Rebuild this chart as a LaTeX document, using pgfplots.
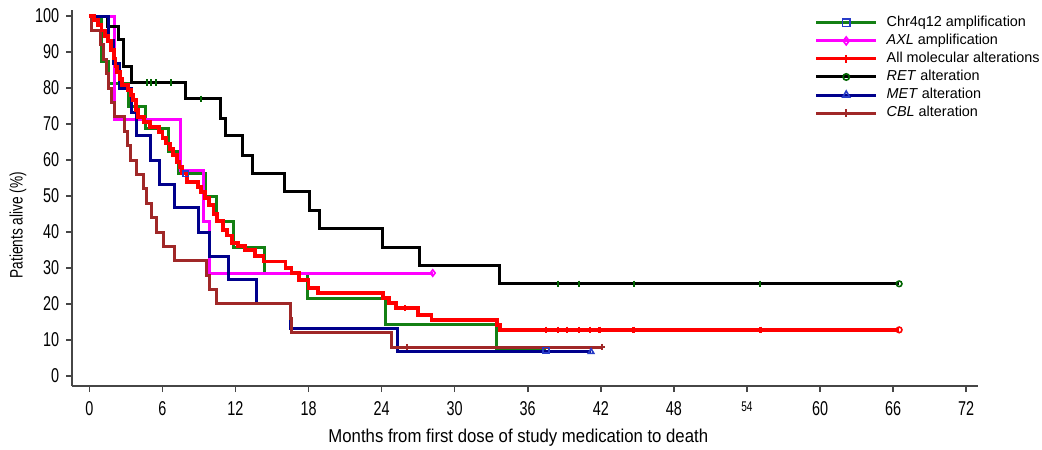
\documentclass[border=0pt]{standalone}
\usepackage{fontspec}
\setmainfont{Liberation Sans}
\newfontfamily\ticknarrow[FakeStretch=0.72]{Liberation Sans}
\newfontfamily\xlabnarrow[FakeStretch=0.9]{Liberation Sans}
\newfontfamily\ylabnarrow[FakeStretch=0.76]{Liberation Sans}
\usepackage{pgfplots}
\pgfplotsset{compat=1.18}
\definecolor{kmgreen}{RGB}{20,128,20}
\definecolor{kmdkgreen}{RGB}{0,100,0}
\definecolor{kmmag}{RGB}{255,0,255}
\definecolor{kmred}{RGB}{255,0,0}
\definecolor{kmnavy}{RGB}{0,0,140}
\definecolor{kmbrown}{RGB}{160,40,40}
\definecolor{kmblue}{RGB}{40,60,200}
\definecolor{axgray}{RGB}{70,70,70}

\pgfplotstableread{
t s
0 100
1.0 87.5
1.55 81.25
3.2 75
4.6 68.75
6.5 62.5
7.3 56.25
9.5 50
10.45 42.86
11.8 35.71
14.4 28.57
17.9 21.43
24.3 14.29
33.4 7.14
37.5 7.14
}\chrtab

\pgfplotstableread{
t s
0 100
2.1 71.4
7.45 57.1
9.36 42.9
9.9 28.6
28.2 28.6
}\axltab

\pgfplotstableread{
t s
0 100
0.4 99
0.7 97.5
1.0 96
1.3 94.5
1.55 93
1.8 90.5
2.0 88.2
2.15 86
2.3 84.5
2.5 82.5
2.65 80.8
3.2 79.4
3.4 78
3.6 76.7
3.8 74
4.0 72
4.5 70.5
5.0 69.2
5.7 67.8
6.0 66.2
6.3 64.6
6.6 63
6.9 61.4
7.2 59.5
7.4 58
7.6 56.3
8.0 54
8.9 52.6
9.2 51.2
9.5 49.5
9.8 47.5
10.2 45
10.5 43
11.0 40.5
11.3 39
11.7 37
12.2 36
12.8 35
13.6 33.3
14.3 31.8
16.1 30
16.6 28.6
17.2 26.7
18.0 24.5
18.8 23
24.1 21.6
24.6 20.2
25.2 18.8
27.0 17
28.1 15.6
33.5 14.2
33.7 12.8
66.5 12.8
}\alltab

\pgfplotstableread{
t s
0 100
1.5 97
2.4 93.5
2.8 86
3.5 81.5
7.9 77
10.8 71.6
11.2 66.7
12.6 61.4
13.4 56.3
16.0 51.2
18.1 45.9
18.9 41.0
24.1 35.8
27.1 30.7
33.7 25.6
66.5 25.6
}\rettab

\pgfplotstableread{
t s
0 100
1.6 93.3
2.0 86.7
2.5 80
3.5 73.3
3.9 66.7
5.0 60
5.8 53.3
7.0 46.7
8.95 40
9.9 33.3
11.4 26.7
13.7 20
16.5 13.3
25.3 6.7
41.2 6.7
}\mettab

\pgfplotstableread{
t s
0 100
0.2 96
0.9 92
1.15 88
1.4 84
1.6 80
1.8 76
2.1 72
2.9 68
3.1 64
3.35 60
3.9 56
4.45 52
4.7 48
5.1 44
5.5 40
6.1 36
7.0 32
9.6 28
9.9 24
10.45 20
16.5 16
16.6 12
24.8 8
42.1 8
}\cbltab

\begin{document}
\begin{tikzpicture}
\useasboundingbox (-36.15pt,-31.5pt) rectangle (484.85pt,193pt);
\begin{axis}[
  at={(0pt,0pt)}, anchor=south west,
  scale only axis, width=453pt, height=188pt,
  xmin=-1.4, xmax=73, ymin=-2.8, ymax=101.7,
  axis x line*=bottom, axis y line*=left,
  axis line style={draw=axgray, line width=0.9pt, -},
  tick style={draw=axgray, line width=0.8pt},
  tick align=outside, major tick length=3pt,
  xtick={0,6,...,72}, ytick={0,10,...,100},
  xticklabels={0,6,12,18,24,30,36,42,48,{\raisebox{2pt}{\fontsize{7}{7}\selectfont 54}},60,66,72},
  /pgf/number format/assume math mode=true,
  xticklabel style={font=\ticknarrow\fontsize{10}{11}\selectfont, yshift=-1.2pt},
  yticklabel style={font=\ticknarrow\fontsize{10}{11}\selectfont},
  xlabel={Months from first dose of study medication to death},
  xlabel style={font=\xlabnarrow\fontsize{9.3}{11}\selectfont, at={(axis description cs:0.5,0)}, anchor=center, yshift=-26pt, xshift=-3.5pt},
  ylabel={Patients alive (\%)},
  ylabel style={font=\ylabnarrow\fontsize{9}{11}\selectfont, at={(axis description cs:-0.0600,0.428)}, anchor=center},
  clip=false,
  legend cell align=left,
  legend image code/.code={\draw[mark repeat=2,mark phase=2] plot coordinates {(0pt,0pt)(15pt,0pt)(30pt,0pt)};},
  legend style={at={(rel axis cs:0.819,0.99)}, anchor=north west, draw=none, fill=none,
    font=\fontsize{7.2}{8.6}\selectfont, inner sep=0pt, row sep=0.3pt,
    nodes={inner sep=1pt}},
]
% step curves
\addplot[const plot, kmgreen, line width=1.5pt, mark=none, forget plot] table[x=t,y=s] {\chrtab};
\addplot[const plot, kmmag, line width=1.5pt, mark=none, forget plot] table[x=t,y=s] {\axltab};
\addplot[const plot, black, line width=1.5pt, mark=none, forget plot] table[x=t,y=s] {\rettab};
\addplot[const plot, kmnavy, line width=1.5pt, mark=none, forget plot] table[x=t,y=s] {\mettab};
\addplot[const plot, kmbrown, line width=1.5pt, mark=none, forget plot] table[x=t,y=s] {\cbltab};
\addplot[const plot, kmred, line width=1.9pt, mark=none, forget plot] table[x=t,y=s] {\alltab};
% censor marks
\addplot[only marks, mark=|, mark size=1.6pt, kmdkgreen, line width=1pt, forget plot] coordinates {
(4.7,81.5) (5.1,81.5) (5.5,81.5) (6.7,81.5) (9.2,77) (38.5,25.6) (40.2,25.6) (44.7,25.6) (55.1,25.6)};
\addplot[only marks, mark=|, mark size=1.6pt, kmred, line width=1.2pt, forget plot] coordinates {
(25.9,18.8) (37.5,12.8) (38.5,12.8) (39.2,12.8) (40.2,12.8) (41.1,12.8) (41.9,12.8) (44.7,12.8) (55.1,12.8)};
\addplot[only marks, mark=|, mark size=1.6pt, kmbrown, line width=0.8pt, forget plot] coordinates {(16.6,16) (26.1,8)};
% end markers
\addplot[only marks, mark=o, mark size=1.4pt, kmdkgreen, line width=0.8pt, forget plot] coordinates {(66.5,25.6)};
\addplot[only marks, mark=o, mark size=1.4pt, kmred, line width=0.8pt, forget plot] coordinates {(66.5,12.8)};
\addplot[only marks, mark=square, mark size=1.4pt, kmblue, line width=0.8pt, forget plot] coordinates {(7.9,56.25) (37.5,7.14)};
\addplot[only marks, mark=diamond, mark size=1.6pt, kmmag, line width=0.8pt, forget plot] coordinates {(28.2,28.6)};
\addplot[only marks, mark=triangle, mark size=1.6pt, kmblue, line width=0.8pt, forget plot] coordinates {(41.2,6.7)};
\addplot[only marks, mark=+, mark size=1.6pt, kmbrown, line width=0.8pt, forget plot] coordinates {(42.1,8)};
% legend
\addlegendimage{kmgreen, line width=1.5pt, mark=square, mark size=1.8pt, mark options={draw=kmblue, fill=none, line width=0.8pt}}
\addlegendentry{\hspace*{3.5pt}Chr4q12 amplification}
\addlegendimage{kmmag, line width=1.5pt, mark=diamond, mark size=2pt, mark options={draw=kmmag, fill=white, line width=0.8pt}}
\addlegendentry{\hspace*{3.5pt}\textit{AXL} amplification}
\addlegendimage{kmred, line width=1.5pt, mark=|, mark size=2pt, mark options={draw=kmred, line width=1.2pt}}
\addlegendentry{\hspace*{3.5pt}All molecular alterations}
\addlegendimage{black, line width=1.5pt, mark=o, mark size=1.6pt, mark options={draw=kmdkgreen, fill=none, line width=0.8pt}}
\addlegendentry{\hspace*{3.5pt}\textit{RET} alteration}
\addlegendimage{kmnavy, line width=1.5pt, mark=triangle, mark size=2pt, mark options={draw=kmblue, fill=white, line width=0.8pt}}
\addlegendentry{\hspace*{3.5pt}\textit{MET} alteration}
\addlegendimage{kmbrown, line width=1.5pt, mark=|, mark size=2pt, mark options={draw=kmbrown, line width=1pt}}
\addlegendentry{\hspace*{3.5pt}\textit{CBL} alteration}
\end{axis}
\end{tikzpicture}
\end{document}
